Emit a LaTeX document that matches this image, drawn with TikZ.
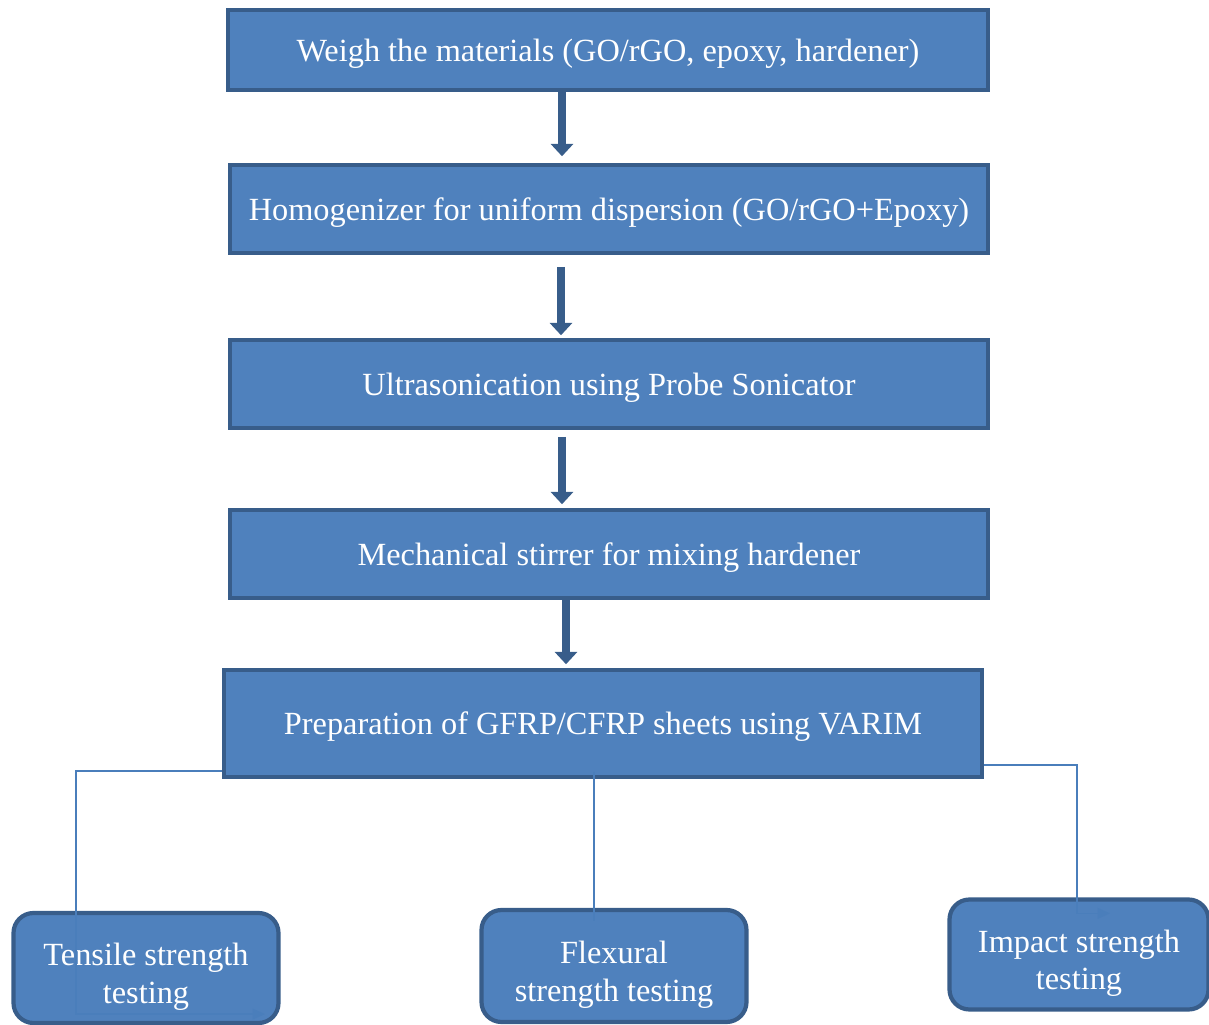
\documentclass[tikz,border=0pt]{standalone}
\usepackage{fontspec}
\setmainfont{Liberation Serif}
\usetikzlibrary{arrows.meta,positioning}

\definecolor{boxfill}{HTML}{4F81BD}
\definecolor{boxline}{HTML}{385D8A}
\definecolor{connline}{HTML}{4A7EBB}
\newcommand{\tstrut}{\rule{0pt}{0.8cm}}

\begin{document}
\begin{tikzpicture}[
    stagebox/.style={draw=boxline, fill=boxfill, line width=2pt, minimum width=15.16cm, minimum height=1.76cm,
      text=white, font=\fontsize{18.4}{21.2}\selectfont, align=center, text depth=-0.02cm},
    testbox/.style={draw=boxline, fill=boxfill, line width=2.4pt, rounded corners=0.4cm, minimum width=5.3cm,
      minimum height=2.2cm, text=white, font=\fontsize{18.4}{21.2}\selectfont, align=center},
    arr/.style={-{Triangle[length=7pt,width=12.5pt]}, line width=4.5pt, draw=boxline},
    conn/.style={connline, line width=0.9pt}
  ]
    \useasboundingbox (0,0) rectangle (24.18,-20.5);
    % process chain
    \node[stagebox, minimum width=15.2cm, minimum height=1.6cm] (weigh) at (12.16,-1.0) {Weigh the materials (GO/rGO, epoxy, hardener)};
    \node[stagebox] (homog) at (12.18,-4.18) {Homogenizer for uniform dispersion (GO/rGO+Epoxy)};
    \node[stagebox] (ultra) at (12.18,-7.68) {Ultrasonication using Probe Sonicator};
    \node[stagebox] (mech) at (12.18,-11.08) {Mechanical stirrer for mixing hardener};
    \node[stagebox, minimum height=2.14cm] (prep) at (12.06,-14.47) {Preparation of GFRP/CFRP sheets using VARIM};
    % tests
    \node[testbox] (tensile) at (2.92,-19.36) {\tstrut Tensile strength\\testing};
    \node[testbox, minimum height=2.24cm] (flex) at (12.28,-19.32) {\tstrut Flexural\\strength testing};
    \node[testbox, minimum width=5.18cm] (impact) at (21.58,-19.09) {\tstrut Impact strength\\testing};
    \draw[arr] ([xshift=-0.92cm]weigh.south) -- ([xshift=-0.94cm,yshift=0.14cm]homog.north);
    \draw[arr] ([xshift=-0.96cm,yshift=-0.24cm]homog.south) -- ([xshift=-0.96cm,yshift=0.06cm]ultra.north);
    \draw[arr] ([xshift=-0.94cm,yshift=-0.14cm]ultra.south) -- ([xshift=-0.94cm,yshift=0.08cm]mech.north);
    \draw[arr] ([xshift=-0.86cm]mech.south) -- ([xshift=-0.74cm,yshift=0.08cm]prep.north);
    \draw[conn, -{Triangle[length=7pt,width=6pt]}] ([yshift=0.16cm]prep.south west) -| ([xshift=-1.4cm,yshift=0.22cm]tensile.south)
      -- ([xshift=2.38cm,yshift=0.22cm]tensile.south);
    \draw[conn] ([xshift=-0.18cm,yshift=0.14cm]prep.south) -- ([xshift=-0.4cm,yshift=-0.26cm]flex.north);
    \draw[conn, -{Triangle[length=7pt,width=6pt]}] ([yshift=0.28cm]prep.south east) -| ([xshift=-0.04cm,yshift=-0.32cm]impact.north)
      -- ([xshift=0.62cm,yshift=-0.32cm]impact.north);
\end{tikzpicture}
\end{document}
